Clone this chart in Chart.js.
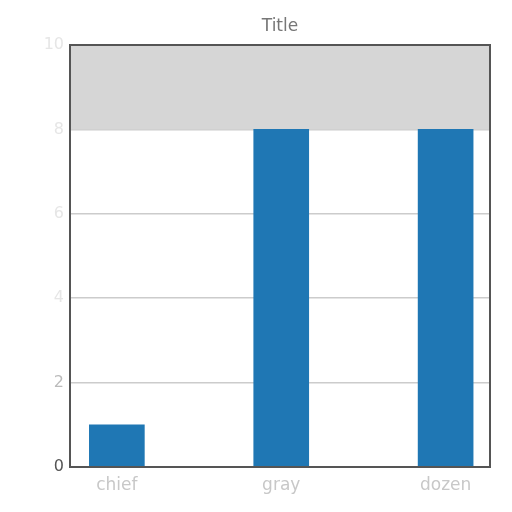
<!DOCTYPE html>
<html><head><meta charset="utf-8">
<script src="https://cdn.jsdelivr.net/npm/chart.js@4/dist/chart.umd.min.js"></script>
<style>html,body{margin:0;padding:0;background:#fff}#c{display:block}</style>
</head><body>
<canvas id="c" width="512" height="512"></canvas>
<script>
const categories = ["chief", "gray", "dozen"];
const values = [1, 8, 8];
const yTicks = [0, 2, 4, 6, 8, 10];
const bandRange = [8, 10];
const titleText = 'Title';

const bandPlugin = {
  id: 'band',
  beforeDatasetsDraw(chart) {
    const {ctx, chartArea, scales} = chart;
    const y1 = scales.y.getPixelForValue(bandRange[1]);
    const y0 = scales.y.getPixelForValue(bandRange[0]);
    ctx.save();
    ctx.fillStyle = '#d6d6d6';
    ctx.fillRect(chartArea.left, y1, chartArea.right - chartArea.left, y0 - y1);
    ctx.restore();
  },
  afterDraw(chart) {
    const {ctx, chartArea} = chart;
    ctx.save();
    ctx.strokeStyle = '#555';
    ctx.lineWidth = 2;
    ctx.strokeRect(chartArea.left, chartArea.top, chartArea.right - chartArea.left, chartArea.bottom - chartArea.top);
    ctx.fillStyle = '#777';
    ctx.font = '17px "DejaVu Sans"';
    ctx.textAlign = 'center';
    ctx.textBaseline = 'middle';
    ctx.fillText(titleText, (chartArea.left + chartArea.right) / 2, 27);
    ctx.restore();
  }
};

new Chart(document.getElementById('c'), {
  type: 'bar',
  data: {
    datasets: [{ data: values.map((v, i) => ({ x: i, y: v })), backgroundColor: '#1f77b4', barThickness: 55 }]
  },
  options: {
    responsive: false,
    animation: false,
    layout: { padding: { left: 0, right: 22, top: 45, bottom: 0 } },
    plugins: {
      legend: { display: false },
      tooltip: { enabled: false },
      title: { display: false }
    },
    scales: {
      x: {
        type: 'linear',
        min: -0.285, max: 2.27,
        offset: false,
        afterBuildTicks(s) { s.ticks = categories.map((c, i) => ({ value: i })); },
        grid: { display: false },
        border: { display: false },
        ticks: { color: '#c8c8c8', font: { family: 'DejaVu Sans', size: 17 }, padding: 0, callback: (v) => categories[v] },
        afterFit(s) { s.height = 45; }
      },
      y: {
        min: 0, max: 10,
        afterBuildTicks(s) { s.ticks = yTicks.map(v => ({ value: v })); },
        grid: { color: '#cccccc', lineWidth: 1.5, drawTicks: false },
        border: { display: false },
        ticks: {
          color: (c) => c.tick.value === 0 ? '#555' : (c.tick.value === 2 ? '#bbb' : '#e6e6e6'),
          font: { family: 'DejaVu Sans', size: 16 },
          padding: 6
        },
        afterFit(s) { s.width = 70; }
      }
    }
  },
  plugins: [bandPlugin]
});
</script>
</body></html>
